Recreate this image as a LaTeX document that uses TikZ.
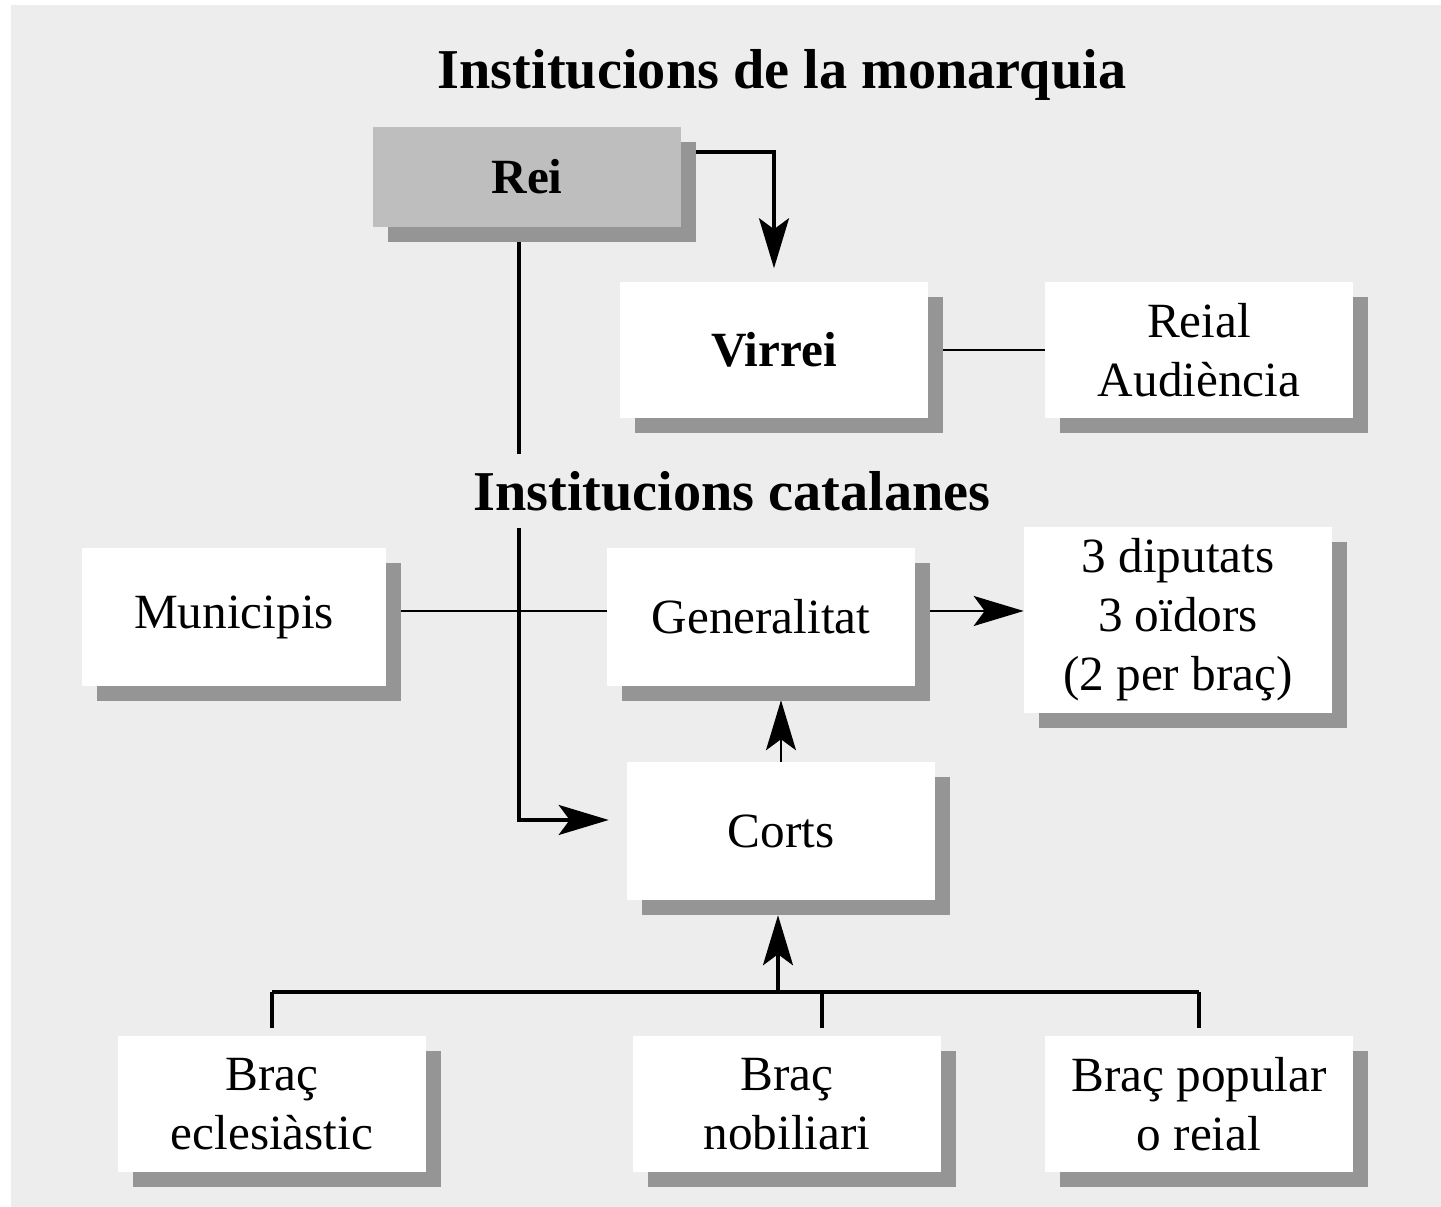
\documentclass[tikz,border=0pt]{standalone}
\usepackage{fontspec}
\setmainfont{Liberation Serif}
\usetikzlibrary{arrows.meta,shadows}
\definecolor{fons}{HTML}{EDEDED}
\definecolor{ombra}{HTML}{959595}
\definecolor{reigris}{HTML}{BEBEBE}
\pgfdeclarelayer{darrere}
\pgfdeclarelayer{linies}
\pgfsetlayers{darrere,linies,main}

\begin{document}
\begin{tikzpicture}[x=0.01cm, y=-0.01cm,
    caixa/.style={fill=white, minimum width=3.07cm, minimum height=1.36cm, align=center, inner sep=0pt,
        font=\fontsize{14}{16.8}\selectfont,
        drop shadow={shadow xshift=0.15cm, shadow yshift=-0.15cm, opacity=1, fill=ombra}},
    titol/.style={font=\fontsize{16}{19}\selectfont\bfseries, inner sep=0pt},
    gruix/.style={line width=0.9pt},
    prim/.style={line width=0.6pt},
    fletxa/.style={-{Stealth[length=0.5cm, width=0.3cm, inset=0.11cm]}}]
    \useasboundingbox (0,0) rectangle (1441,1207);
    \begin{pgfonlayer}{darrere}
        \fill[fons] (11,5) rectangle (1441,1207);
    \end{pgfonlayer}

    % Monarquia
    \node[titol] (monarquia) at (782,75) {Institucions de la monarquia};
    \node[caixa, fill=reigris, minimum height=1cm, font=\fontsize{14}{16.8}\selectfont\bfseries] (rei) at (527,177) {Rei};
    \node[caixa, font=\fontsize{14}{16.8}\selectfont\bfseries] (virrei) at (774,350) {Virrei};
    \node[caixa] (audiencia) at (1199,350) {Reial\\Audiència};

    % Institucions catalanes
    \node[titol, minimum height=0.73cm] (catalanes) at (732,491) {Institucions catalanes};
    \node[caixa, minimum width=3.04cm, minimum height=1.37cm] (municipis) at (234,617) {Municipis};
    \node[caixa, minimum height=1.37cm] (generalitat) at (761,617) {Generalitat};
    \node[caixa, minimum height=1.85cm] (diputats) at (1178,620) {3 diputats\\3 oïdors\\(2 per braç)};
    \node[caixa, minimum height=1.37cm] (corts) at (781,831) {Corts};

    % Bracos
    \node[caixa] (eclesiastic) at (272,1104) {Braç\\eclesiàstic};
    \node[caixa] (nobiliari) at (787,1104) {Braç\\nobiliari};
    \node[caixa] (popular) at (1199,1104) {Braç popular\\o reial};

    \coordinate (reiD) at (680,152);
    \coordinate (reiB) at (519,227);
    \coordinate (unio) at (778,992);

    \begin{pgfonlayer}{linies}
        \draw[gruix, fletxa, shorten >=0.13cm] (reiD) -| (virrei.north);
        \draw[gruix] (reiB) -- (reiB |- catalanes.north);
        \draw[gruix, fletxa, shorten >=0.18cm] (reiB |- catalanes.south) |- ([yshift=0.11cm]corts.west);
        \draw[prim] (virrei) -- (audiencia);
        \draw[prim] ([yshift=0.06cm]municipis.center) -- ([yshift=0.06cm]generalitat.center);
        \draw[prim, fletxa] ([yshift=0.06cm]generalitat.center) -- ([yshift=0.06cm]diputats.west |- generalitat);
        \draw[prim, fletxa, shorten >=0.14cm] (corts.north) -- (corts.north |- generalitat.south);

        % Bracos cap a les Corts
        \draw[gruix] (eclesiastic.north |- unio) -- (popular.north |- unio);
        \foreach \b/\d in {eclesiastic/0, nobiliari/0.35, popular/0} {
            \coordinate (peu) at ([xshift=\d cm, yshift=0.07cm]\b.north);
            \draw[gruix] (peu |- unio) -- (peu);
        }
        \draw[gruix, fletxa, shorten >=0.15cm] (unio) -- (unio |- corts.south);
    \end{pgfonlayer}
\end{tikzpicture}
\end{document}
